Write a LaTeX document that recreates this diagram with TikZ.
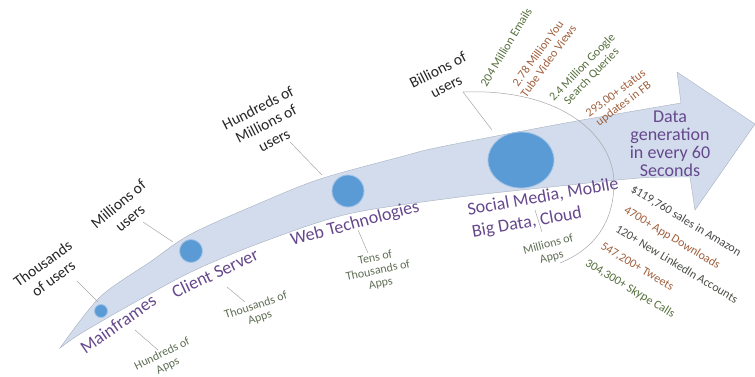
\documentclass[tikz,border=0pt]{standalone}
\usepackage{tikz}
\usepackage{fontspec}
\setmainfont{Carlito}
\usetikzlibrary{shapes,arrows,positioning,calc}
\definecolor{band}{RGB}{210,220,236}
\definecolor{bandline}{RGB}{165,175,190}
\definecolor{dot}{RGB}{91,155,213}
\definecolor{dotline}{RGB}{160,195,230}
\definecolor{era}{RGB}{102,72,140}
\definecolor{appgreen}{RGB}{95,110,85}
\definecolor{statgreen}{RGB}{85,110,60}
\definecolor{statbrown}{RGB}{160,95,60}
\definecolor{statgray}{RGB}{70,70,70}

\begin{document}
\begin{tikzpicture}[x=1pt, y=-1pt,
    users/.style={font=\fontsize{15.5}{18}\selectfont, text=black!85, align=center, inner sep=0pt},
    eralabel/.style={font=\fontsize{18}{20}\selectfont, text=era, inner sep=0pt},
    apps/.style={font=\fontsize{12}{13}\selectfont, text=appgreen, align=center, inner sep=0pt},
    stat/.style={font=\fontsize{12}{13}\selectfont, align=center, inner sep=0pt},
    leader/.style={draw=gray!70, line width=0.5pt},
    dotmark/.style={fill=dot, draw=dotline, line width=0.8pt}]
\useasboundingbox (0,0) rectangle (755,376);

\filldraw[fill=band, draw=bandline, line width=0.4pt]
    plot[smooth] coordinates {(60,348) (100,297) (150,262) (191,234) (260,203) (320,179) (400,157) (440,147) (560,124) (640,110) (681,103)}
    -- (677,72) -- (755,124) -- (695,210) -- (690,177)
    -- plot[smooth] coordinates {(690,177) (640,178) (560,186) (460,197) (348,214) (260,243) (191,272) (130,305) (80,334) (60,348)}
    -- cycle;

\node[dotmark, circle, minimum size=13pt, inner sep=0pt] (c1) at (101,311) {};
\node[dotmark, circle, minimum size=23pt, inner sep=0pt] (c2) at (191,251) {};
\node[dotmark, circle, minimum size=32pt, inner sep=0pt] (c3) at (348,191) {};
\node[dotmark, ellipse, minimum width=66pt, minimum height=56pt, inner sep=0pt] (c4) at (521,160) {};

\node[users, rotate=36] (tu) at (48,271) {Thousands\\of users};
\node[users, rotate=40] (mu) at (124,211) {Millions of\\users};
\node[users, rotate=27] (hmu) at (266,124) {Hundreds of\\Millions of\\users};
\node[users, rotate=27] (bu) at (442,78) {Billions of\\users};

\node[eralabel, rotate=35] (mf) at (118,324) {Mainframes};
\node[eralabel, rotate=25] (cs) at (215,273) {Client Server};
\node[eralabel, rotate=15] (wt) at (355,224) {Web Technologies};
\node[eralabel, rotate=10] (smm) at (543,197) {Social Media, Mobile};
\node[eralabel, rotate=10] (bdc) at (527,223) {Big Data, Cloud};
\node[eralabel, align=center, font=\fontsize{18}{18}\selectfont] (dg) at (670,144) {Data\\generation\\in every 60\\Seconds};

\node[apps, rotate=26] (ha) at (165,360) {Hundreds of\\Apps};
\node[apps, rotate=18] (ta) at (258,312) {Thousands of\\Apps};
\node[apps, rotate=12] (tta) at (378,271) {Tens of\\Thousands of\\Apps};
\node[apps, rotate=15] (ma) at (550,251) {Millions of\\Apps};

\node[stat, text=statgreen, rotate=59] (em) at (506,47) {204 Million Emails};
\node[stat, text=statbrown, rotate=54] (yt) at (543,57) {2.78 Million You\\Tube Video Views};
\node[stat, text=statgreen, rotate=46] (gq) at (587,72) {2.4 Million Google\\Search Queries};
\node[stat, text=statbrown, rotate=37] (fb) at (620,99) {293,00+ status\\updates in FB};

\node[stat, text=statgray, rotate=-31] (am) at (686,221) {\$119,760 sales in Amazon};
\node[stat, text=statbrown, rotate=-31] (ad) at (672,238) {4700+ App Downloads};
\node[stat, text=statgray!80!statgreen, rotate=-31] (li) at (677,264) {120+ New LinkedIn Accounts};
\node[stat, text=statbrown, rotate=-31] (tw) at (637,267) {547,200+ Tweets};
\node[stat, text=statgreen, rotate=-31] (sk) at (630,289) {304,300+ Skype Calls};

\coordinate (tu1) at (77,281);  \coordinate (tu2) at (98,302);
\coordinate (mu1) at (143,222); \coordinate (mu2) at (173,242);
\coordinate (hm1) at (290,142); \coordinate (hm2) at (322,175);
\coordinate (bu1) at (463,92);  \coordinate (bu2) at (492,130);
\coordinate (bu3) at (614,185); \coordinate (bu4) at (560,263);
\coordinate (mf1) at (135,330); \coordinate (mf2) at (158,350);
\coordinate (cs1) at (227,287); \coordinate (cs2) at (245,302);
\coordinate (wt1) at (358,230); \coordinate (wt2) at (368,253);
\coordinate (sm1) at (535,210); \coordinate (sm2) at (542,232);

\draw[leader] (tu1) -- (tu2);
\draw[leader] (mu1) -- (mu2);
\draw[leader] (hm1) -- (hm2);
\draw[leader] (bu2) -- (bu1) .. controls (560,88) and (615,135) .. (bu3)
    .. controls (613,225) and (592,250) .. (bu4);
\draw[leader] (mf1) -- (mf2);
\draw[leader] (cs1) -- (cs2);
\draw[leader] (wt1) -- (wt2);
\draw[leader] (sm1) -- (sm2);
\end{tikzpicture}
\end{document}
